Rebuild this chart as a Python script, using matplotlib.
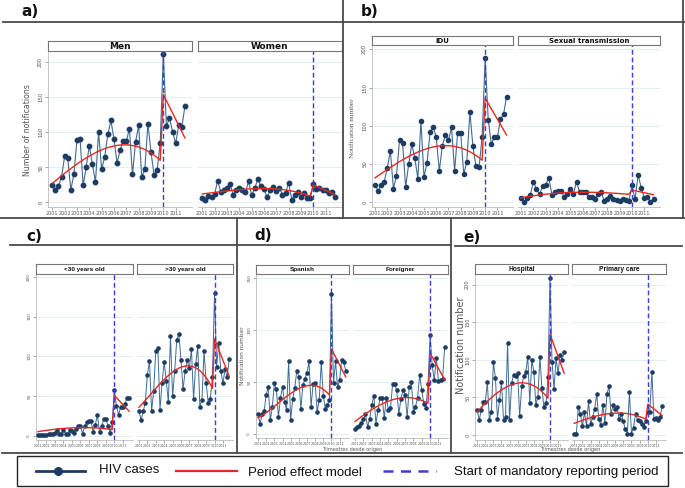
import numpy as np
import matplotlib
matplotlib.use("Agg")
import matplotlib.pyplot as plt
from matplotlib.lines import Line2D
from matplotlib.patches import Rectangle

# ---------------- data ----------------
years = ["2001", "2002", "2003", "2004", "2005", "2006", "2007", "2008", "2009", "2010", "2011"]
n_quarters = 44
reform_q = 36          # 2010 Q1: start of mandatory reporting
model_knots = [0, 12, 24, 35]

men = [25, 17, 23, 36, 66, 63, 18, 40, 89, 90, 24, 51, 81, 54, 29, 100, 47, 65, 97, 117,
       90, 56, 75, 88, 87, 105, 40, 86, 110, 36, 47, 112, 72, 39, 46, 85,
       212, 109, 120, 101, 84, 110, 107, 137]
women = [6, 3, 9, 7, 12, 31, 14, 18, 20, 26, 11, 17, 20, 18, 14, 30, 10, 20, 33, 23,
         19, 7, 17, 22, 16, 21, 11, 13, 28, 4, 10, 15, 8, 13, 6, 6,
         26, 19, 21, 17, 17, 13, 14, 8]
idu = [23, 15, 23, 27, 45, 67, 18, 34, 82, 77, 20, 50, 76, 58, 31, 106, 33, 52, 92, 99,
       85, 41, 74, 88, 81, 98, 41, 90, 91, 37, 53, 118, 73, 47, 46, 85,
       188, 108, 76, 86, 85, 109, 115, 138]
sexual = [6, 1, 6, 10, 27, 17, 11, 21, 23, 32, 10, 14, 15, 15, 7, 11, 18, 11, 27, 13,
          13, 13, 7, 7, 5, 11, 13, 2, 5, 8, 5, 3, 2, 5, 3, 2,
          22, 4, 36, 19, 6, 7, 1, 5]
under30 = [1, 1, 1, 1, 1, 2, 2, 3, 4, 7, 3, 3, 7, 3, 2, 8, 6, 4, 9, 13,
           13, 3, 12, 17, 19, 19, 5, 14, 26, 5, 12, 21, 21, 13, 4, 17,
           58, 38, 26, 37, 36, 40, 48, 48]
over30 = [31, 20, 31, 42, 77, 94, 31, 57, 107, 110, 33, 67, 93, 69, 43, 125, 50, 81, 121, 128,
          96, 59, 81, 95, 85, 109, 46, 90, 113, 37, 45, 107, 67, 41, 47, 74,
          180, 87, 117, 82, 66, 84, 74, 97]
spanish = [19, 10, 19, 22, 38, 45, 13, 26, 49, 43, 16, 35, 45, 31, 23, 70, 13, 34, 44, 61,
           55, 24, 47, 53, 59, 70, 26, 48, 49, 21, 33, 69, 37, 24, 28, 33,
           135, 49, 70, 45, 52, 71, 69, 61]
foreigner = [5, 7, 8, 11, 14, 19, 7, 14, 28, 37, 10, 23, 35, 35, 15, 35, 23, 25, 48, 48,
             42, 19, 34, 42, 38, 16, 45, 50, 21, 26, 35, 57, 42, 29, 25, 48,
             95, 66, 52, 73, 51, 52, 53, 84]
hospital = [33, 20, 33, 44, 44, 70, 20, 31, 97, 76, 21, 46, 70, 20, 24, 122, 20, 69, 80, 79,
            82, 25, 65, 78, 84, 104, 43, 100, 84, 40, 51, 104, 62, 37, 42, 77,
            209, 97, 61, 102, 82, 107, 100, 111]
primary = [2, 1, 37, 28, 12, 30, 12, 45, 14, 24, 35, 55, 21, 13, 40, 16, 54, 65, 28, 40,
           34, 37, 21, 28, 18, 8, 2, 57, 2, 10, 28, 20, 18, 15, 11, 18,
           31, 31, 84, 21, 23, 20, 24, 38]

# period-effect model: values read at model_knots (pre) and at start/end of post period
men_pre, men_post = [27, 66, 82, 60], [154, 92]
women_pre, women_post = [12, 18, 19, 9], [25, 11]
idu_pre, idu_post = [32, 62, 74, 55], [136, 88]
sexual_pre, sexual_post = [6, 12, 13, 10.5], [16, 10]
under30_pre, under30_post = [5.5, 9.5, 10.5, 8], [51, 31]
over30_pre, over30_post = [36, 71, 88, 60], [122, 75]
spanish_pre, spanish_post = [15.5, 33, 46.5, 37.5], [82, 55]
foreigner_pre, foreigner_post = [12, 28, 35, 29.5], [78, 52]
hospital_pre, hospital_post = [31, 60, 69, 49], [134, 82]
primary_pre, primary_post = [15.5, 26, 29, 21], [41, 26]

# ---------------- style ----------------
LINE = "#3f6b94"
MARK = "#1d3c63"
RED = "#e8281f"
DASH = "#3d3dd6"
GRID = "#e4edf0"
TXT = "#555555"
SANS = ["Liberation Sans", "DejaVu Sans"]

W, H = 685, 488
fig = plt.figure(figsize=(W / 100, H / 100), dpi=100)
fig.patch.set_facecolor("white")


def ax_px(l, t, r, b):
    return fig.add_axes([l / W, 1 - b / H, (r - l) / W, (b - t) / H])


def fline(x0, y0, x1, y1, lw=1.3, color="#4a4a4a"):
    fig.add_artist(Line2D([x0 / W, x1 / W], [1 - y0 / H, 1 - y1 / H],
                          transform=fig.transFigure, color=color, lw=lw))


def ftext(x, y, s, **kw):
    fig.text(x / W, 1 - y / H, s, **kw)


def panel(box, strip, title, vals, pre, post, xlim, ylim, yticks, first,
          ms=2.8, lw=0.8, tfs=6, tfam=None, xlab_fs=3.5, ylab_fs=3.8, show_xlab=True):
    l, t, r, b = box
    ax = ax_px(l, t, r, b)
    ax.set_facecolor("white")
    x = np.arange(n_quarters)
    ax.set_xlim(*xlim)
    ax.set_ylim(*ylim)
    for yt in yticks:
        ax.axhline(yt, color=GRID, lw=0.8, zorder=0)
    ax.plot(x, vals, "-", color=LINE, lw=lw, marker="o", ms=ms,
            mfc=MARK, mec=MARK, zorder=3)
    coef = np.polyfit(model_knots, pre, 3)
    xp = np.arange(reform_q)
    xm = np.concatenate([xp, [reform_q, n_quarters - 1]])
    ym = np.concatenate([np.polyval(coef, xp), post])
    ax.plot(xm, ym, color=RED, lw=1.0, zorder=4)
    ax.axvline(reform_q, color=DASH, lw=1.0, ls=(0, (3.5, 2)), zorder=5)
    for s in ["top", "right"]:
        ax.spines[s].set_visible(False)
    ax.spines["bottom"].set_color("#bbbbbb")
    ax.spines["bottom"].set_linewidth(0.6)
    ax.set_xticks(np.arange(0, n_quarters, 4))
    if show_xlab:
        ax.set_xticklabels(years, fontsize=xlab_fs, color=TXT)
    else:
        ax.set_xticklabels([])
    ax.tick_params(axis="x", length=2, width=0.5, color="#888888", pad=1)
    if first:
        ax.spines["left"].set_color("#bbbbbb")
        ax.spines["left"].set_linewidth(0.6)
        ax.set_yticks(yticks)
        ax.set_yticklabels([str(v) for v in yticks], fontsize=ylab_fs, color=TXT,
                           rotation=90, va="center")
        ax.tick_params(axis="y", length=2, width=0.5, color="#888888", pad=1.5)
    else:
        ax.spines["left"].set_visible(False)
        ax.set_yticks([])
    sl, st, sr, sb = strip
    sax = ax_px(sl, st, sr, sb)
    sax.set_xticks([])
    sax.set_yticks([])
    for s in sax.spines.values():
        s.set_color("#777777")
        s.set_linewidth(0.8)
    kw = dict(ha="center", va="center", fontsize=tfs, fontweight="bold",
              transform=sax.transAxes, color="#111111")
    if tfam:
        kw["family"] = tfam
    sax.text(0.5, 0.45, title, **kw)
    return ax


# ---------------- a) ----------------
xl_a = (-1.4, 45.3)
yl_a = (-6.7, 216)
tk200 = [0, 50, 100, 150, 200]
panel((48, 51, 192, 207), (48, 41, 192, 51), "Men", men, men_pre, men_post,
      xl_a, yl_a, tk200, True, ms=3.2, tfs=6.5)
panel((198, 51, 342, 207), (198, 41, 342, 51), "Women", women, women_pre, women_post,
      xl_a, yl_a, tk200, False, ms=3.2, tfs=6.5)
ftext(28, 130, "Number of notifications", rotation=90, ha="center", va="center",
      fontsize=5.6, color=TXT)

# ---------------- b) ----------------
xl_b = (-1.0, 45.1)
yl_b = (-6.1, 205.6)
panel((372, 45, 513, 207), (372, 36, 513, 45), "IDU", idu, idu_pre, idu_post,
      xl_b, yl_b, tk200, True, ms=3.0, tfs=5)
panel((518, 45, 660, 207), (518, 36, 660, 45), "Sexual transmission", sexual, sexual_pre,
      sexual_post, xl_b, yl_b, tk200, False, ms=3.0, tfs=5)
ftext(352, 128, "Notification number", rotation=90, ha="center", va="center",
      fontsize=5.2, color=TXT, family="Liberation Serif")

# ---------------- c) ----------------
xl_c = (-0.95, 44.8)
yl_c = (-5, 203.4)
panel((36, 274, 133, 440), (36, 264, 133, 274), "<30 years old", under30, under30_pre,
      under30_post, xl_c, yl_c, tk200, True, ms=2.3, lw=0.7, tfs=4.6, tfam=SANS,
      xlab_fs=2.4, ylab_fs=3.0)
panel((137, 274, 233, 440), (137, 264, 233, 274), ">30 years old", over30, over30_pre,
      over30_post, xl_c, yl_c, tk200, False, ms=2.3, lw=0.7, tfs=4.6, tfam=SANS,
      xlab_fs=2.4, ylab_fs=3.0)

# ---------------- d) ----------------
xl_d = (-1.0, 44.6)
yl_d = (-3.9, 154.1)
tk150 = [0, 50, 100, 150]
panel((256, 274, 349, 438), (256, 265, 349, 274), "Spanish", spanish, spanish_pre,
      spanish_post, xl_d, yl_d, tk150, True, ms=2.3, lw=0.7, tfs=4.6, tfam=SANS,
      xlab_fs=2.4, ylab_fs=3.0)
panel((353, 274, 448, 438), (353, 265, 448, 274), "Foreigner", foreigner, foreigner_pre,
      foreigner_post, xl_d, yl_d, tk150, False, ms=2.3, lw=0.7, tfs=4.6, tfam=SANS,
      xlab_fs=2.4, ylab_fs=3.0)
ftext(243, 356, "Notification number", rotation=90, ha="center", va="center",
      fontsize=4.2, color=TXT)
ftext(352, 449, "Trimestres desde origen", ha="center", va="center", fontsize=3.6, color=TXT)

# ---------------- e) ----------------
xl_e = (-1.1, 44.9)
yl_e = (-6.6, 214)
panel((475, 274, 568, 440), (475, 264, 568, 274), "Hospital", hospital, hospital_pre,
      hospital_post, xl_e, yl_e, tk200, True, ms=2.3, lw=0.7, tfs=4.8, tfam=SANS,
      xlab_fs=2.4, ylab_fs=3.6)
panel((572, 274, 666, 440), (572, 264, 666, 274), "Primary care", primary, primary_pre,
      primary_post, xl_e, yl_e, tk200, False, ms=2.3, lw=0.7, tfs=4.8, tfam=SANS,
      xlab_fs=2.4, ylab_fs=3.6)
ftext(461, 345, "Notification number", rotation=90, ha="center", va="center",
      fontsize=7, color=TXT)
ftext(570, 450, "Trimestres desde origen", ha="center", va="center", fontsize=3.6, color=TXT)

# ---------------- section labels and frame lines ----------------
lab = dict(ha="left", va="center", fontsize=11, fontweight="bold", color="#111111")
ftext(21, 12, "a)", **lab)
ftext(361, 12, "b)", **lab)
ftext(26, 237, "c)", **lab)
ftext(254, 236, "d)", **lab)
ftext(463, 238, "e)", **lab)

fline(3, 22, 685, 22)
fline(343, 0, 343, 218)
fline(683, 0, 683, 218)
fline(0, 218, 685, 218)
fline(10, 245, 237, 245)
fline(237, 218, 237, 453)
fline(237, 245, 451, 245)
fline(451, 218, 451, 453)
fline(455, 246, 682, 246)
fline(2, 453, 682, 453)

# ---------------- legend ----------------
fig.add_artist(Rectangle((17 / W, 1 - 486 / H), (668 - 17) / W, 30 / H,
                         transform=fig.transFigure, fill=False, ec="#222222", lw=1.0))
ly = 1 - 471 / H
fig.add_artist(Line2D([36 / W, 85 / W], [ly, ly], transform=fig.transFigure,
                      color=MARK, lw=2.0))
fig.add_artist(Line2D([58 / W], [ly], transform=fig.transFigure, color=MARK,
                      marker="o", ms=5.5, lw=0))
fig.add_artist(Line2D([176 / W, 237 / W], [ly, ly], transform=fig.transFigure,
                      color=RED, lw=1.6))
fig.add_artist(Line2D([383 / W, 436 / W], [ly, ly], transform=fig.transFigure,
                      color=DASH, lw=1.8, ls=(0, (4, 3))))
lk = dict(ha="left", va="center", fontsize=9.5, color="#111111", family=SANS)
ftext(99, 470, "HIV cases", **lk)
ftext(248, 473, "Period effect model", **lk)
ftext(454, 472, "Start of mandatory reporting period", **lk)

fig.savefig("out.png", dpi=100, facecolor="white")
